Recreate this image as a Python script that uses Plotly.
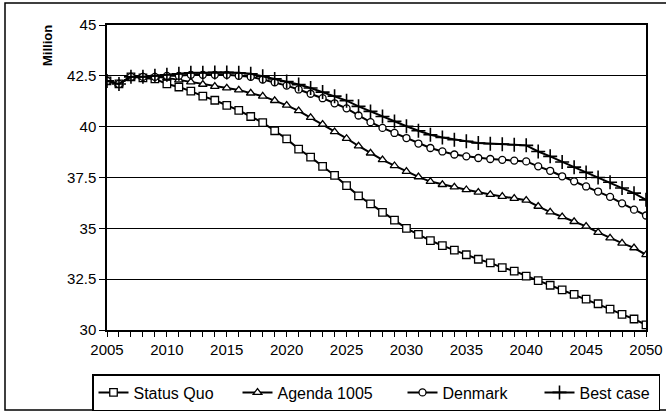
import plotly.graph_objects as go

years = list(range(2005, 2051))

status_quo = [42.25, 42.1, 42.45, 42.4, 42.35, 42.1, 41.95, 41.75, 41.5, 41.3,
              41.05, 40.8, 40.5, 40.2, 39.8, 39.4, 38.9, 38.5, 38.05, 37.6,
              37.1, 36.6, 36.2, 35.78, 35.4, 35.0, 34.7, 34.4, 34.15, 33.93,
              33.7, 33.48, 33.3, 33.07, 32.9, 32.65, 32.43, 32.2, 31.97, 31.75,
              31.52, 31.29, 31.03, 30.77, 30.54, 30.25]

agenda_1005 = [42.25, 42.1, 42.45, 42.45, 42.45, 42.4, 42.3, 42.2, 42.08, 41.98,
               41.9, 41.8, 41.65, 41.5, 41.28, 41.05, 40.78, 40.45, 40.12, 39.75,
               39.42, 39.05, 38.7, 38.37, 38.08, 37.8, 37.53, 37.3, 37.15, 37.03,
               36.9, 36.77, 36.66, 36.57, 36.47, 36.38, 36.08, 35.8, 35.57, 35.33,
               35.1, 34.8, 34.52, 34.27, 34.04, 33.7]

denmark = [42.25, 42.1, 42.45, 42.45, 42.45, 42.5, 42.5, 42.55, 42.55, 42.55,
           42.55, 42.5, 42.45, 42.32, 42.18, 42.02, 41.83, 41.62, 41.4, 41.15,
           40.9, 40.55, 40.22, 39.94, 39.69, 39.44, 39.17, 38.95, 38.78, 38.63,
           38.54, 38.46, 38.41, 38.37, 38.33, 38.29, 38.05, 37.83, 37.56, 37.31,
           37.06, 36.81, 36.55, 36.23, 35.92, 35.63]

best_case = [42.25, 42.1, 42.45, 42.45, 42.5, 42.55, 42.6, 42.65, 42.65, 42.67,
             42.67, 42.65, 42.6, 42.48, 42.35, 42.22, 42.07, 41.9, 41.7, 41.5,
             41.28, 41.0, 40.75, 40.5, 40.26, 40.02, 39.8, 39.6, 39.47, 39.36,
             39.28, 39.2, 39.16, 39.14, 39.11, 39.08, 38.78, 38.54, 38.26, 38.01,
             37.75, 37.5, 37.27, 36.98, 36.73, 36.4]

series_names = ["Status Quo", "Agenda 1005", "Denmark", "Best case"]
x_tick_vals = [2005, 2010, 2015, 2020, 2025, 2030, 2035, 2040, 2045, 2050]
y_tick_vals = [30, 32.5, 35, 37.5, 40, 42.5, 45]
y_tick_text = ["30", "32.5", "35", "37.5", "40", "42.5", "45"]

FONT = "Liberation Sans"

W, H = 666, 414
L, R, T, B = 107, 20, 25, 84
pw, ph = W - L - R, H - T - B

def px_x(p):
    return (p - L) / pw

def px_y(p):
    return (H - B - p) / ph

fig = go.Figure()

styles = [
    dict(symbol="square", size=7.5, color="white", line=dict(color="black", width=1.3)),
    dict(symbol="triangle-up", size=7.5, color="white", line=dict(color="black", width=1.3)),
    dict(symbol="circle", size=7, color="white", line=dict(color="black", width=1.3)),
    dict(symbol="cross-thin", size=10, color="black", line=dict(color="black", width=1.6)),
]
legend_widths = [99, 120, 92, 74]

for name, vals, mk, lw in zip(series_names, [status_quo, agenda_1005, denmark, best_case],
                              styles, legend_widths):
    fig.add_trace(go.Scatter(
        x=years, y=vals, name=name, mode="lines+markers",
        line=dict(color="black", width=2),
        marker=mk, legendwidth=lw,
    ))

fig.update_layout(
    width=W, height=H,
    margin=dict(l=L, r=R, t=T, b=B, pad=0, autoexpand=False),
    paper_bgcolor="white", plot_bgcolor="white",
    font=dict(family=FONT, color="black", size=15),
    showlegend=True,
    legend=dict(
        orientation="h",
        x=px_x(92), xanchor="left",
        y=px_y(374), yanchor="top",
        bordercolor="black", borderwidth=1.5,
        font=dict(size=16, family=FONT),
        itemwidth=30,
        traceorder="normal",
    ),
    xaxis=dict(
        range=[2005, 2050],
        tickvals=x_tick_vals,
        ticks="outside", ticklen=5, tickcolor="black",
        minor=dict(dtick=1, ticks="outside", ticklen=5, tickcolor="black", showgrid=False),
        showgrid=False, zeroline=False,
        showline=True, linecolor="black", linewidth=1.5, mirror=True,
        tickfont=dict(size=15),
    ),
    yaxis=dict(
        range=[30, 45],
        tickvals=y_tick_vals, ticktext=y_tick_text,
        ticks="outside", ticklen=6, tickcolor="black",
        showgrid=True, gridcolor="black", gridwidth=1.2,
        zeroline=False,
        showline=True, linecolor="black", linewidth=1.5, mirror=True,
        tickfont=dict(size=15),
    ),
    shapes=[
        dict(type="rect", xref="paper", yref="paper",
             x0=px_x(5), x1=px_x(672), y0=px_y(410), y1=px_y(3),
             line=dict(color="black", width=1.5), layer="below"),
    ],
    annotations=[
        dict(text="<b>Million</b>", xref="paper", yref="paper",
             x=px_x(47), y=px_y(46), xanchor="center", yanchor="middle",
             textangle=-90, showarrow=False,
             font=dict(size=13, family=FONT)),
    ],
)

fig.write_html(
    "out.html",
    config={"displayModeBar": False},
    post_script="document.body.style.margin='0';document.body.style.overflow='hidden';",
)
